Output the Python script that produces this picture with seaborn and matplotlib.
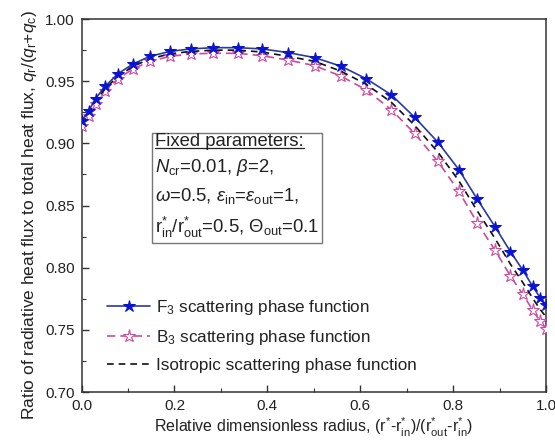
import numpy as np
import pandas as pd
import matplotlib
matplotlib.use("Agg")
import matplotlib.pyplot as plt
import seaborn as sns
from matplotlib.ticker import MultipleLocator, FormatStrFormatter
from matplotlib.lines import Line2D

sns.set_theme(style="ticks")
plt.rcParams['font.family'] = ['Liberation Sans', 'DejaVu Sans']
plt.rcParams['mathtext.fontset'] = 'custom'
plt.rcParams['mathtext.rm'] = 'Liberation Sans'
plt.rcParams['mathtext.it'] = 'Liberation Sans:italic'
plt.rcParams['mathtext.bf'] = 'Liberation Sans:bold'

# ---- data ----
radius = [0.0, 0.015, 0.030, 0.051, 0.078, 0.111, 0.147, 0.190, 0.235, 0.283,
          0.336, 0.389, 0.445, 0.502, 0.559, 0.613, 0.667, 0.717, 0.767, 0.812,
          0.852, 0.890, 0.923, 0.950, 0.971, 0.987, 1.0]
f3 = [0.918, 0.926, 0.936, 0.946, 0.956, 0.964, 0.970, 0.974, 0.976, 0.977,
      0.977, 0.976, 0.973, 0.969, 0.962, 0.952, 0.939, 0.921, 0.901, 0.879,
      0.855, 0.833, 0.813, 0.798, 0.785, 0.776, 0.770]
b3 = [0.914, 0.922, 0.932, 0.942, 0.952, 0.960, 0.966, 0.970, 0.972, 0.9725,
      0.9725, 0.9705, 0.967, 0.9625, 0.954, 0.943, 0.927, 0.908, 0.8855, 0.8615,
      0.836, 0.814, 0.7935, 0.7785, 0.766, 0.757, 0.751]
iso = [0.916, 0.924, 0.934, 0.944, 0.954, 0.962, 0.968, 0.972, 0.974, 0.975,
       0.975, 0.9735, 0.970, 0.966, 0.958, 0.9475, 0.933, 0.9145, 0.893, 0.870,
       0.8455, 0.8235, 0.803, 0.788, 0.7755, 0.7665, 0.7605]
labels = ["F$_3$ scattering phase function",
          "B$_3$ scattering phase function",
          "Isotropic scattering phase function"]

df = pd.DataFrame({"r": radius, "F3": f3, "B3": b3, "Iso": iso})

fig = plt.figure(figsize=(5.55, 4.44), dpi=100)
ax = fig.add_axes([0.147, 0.117, 0.837, 0.840])

blue_line = "#2a3a9c"
blue_mk = "#0a14d0"
pink = "#cc4a9e"

sns.lineplot(data=df, x="r", y="F3", ax=ax, color=blue_line, lw=1.2,
             marker="*", markersize=9, markerfacecolor=blue_mk,
             markeredgecolor=blue_mk, label=labels[0], zorder=4)
sns.lineplot(data=df, x="r", y="B3", ax=ax, color=pink, lw=1.2,
             linestyle=(0, (5, 3)), marker="*", markersize=9.5,
             markerfacecolor="white", markeredgecolor=pink,
             markeredgewidth=0.8, label=labels[1], zorder=3)
sns.lineplot(data=df, x="r", y="Iso", ax=ax, color="#111111", lw=1.2,
             linestyle=(0, (4, 3)), label=labels[2], zorder=3.5)

ax.set_xlim(0, 1.0)
ax.set_ylim(0.70, 1.00)
ax.xaxis.set_major_locator(MultipleLocator(0.2))
ax.xaxis.set_minor_locator(MultipleLocator(0.1))
ax.yaxis.set_major_locator(MultipleLocator(0.05))
ax.yaxis.set_minor_locator(MultipleLocator(0.025))
ax.xaxis.set_major_formatter(FormatStrFormatter('%.1f'))
ax.yaxis.set_major_formatter(FormatStrFormatter('%.2f'))
ax.tick_params(which='major', direction='in', length=5, width=1,
               labelsize=11, colors='#333333', labelcolor='#222222', pad=5)
ax.tick_params(which='minor', direction='in', length=3, width=0.8, colors='#333333')
ax.tick_params(top=False, right=False, which='both')
for s in ax.spines.values():
    s.set_visible(True)
    s.set_color('#333333')
    s.set_linewidth(1.1)

ax.set_xlabel(r"Relative dimensionless radius, (r$^{*}$-r$^{*}_{\rm in}$)/(r$^{*}_{\rm out}$-r$^{*}_{\rm in}$)",
              fontsize=11.5, color='#222222', labelpad=2)
ax.set_ylabel(r"Ratio of radiative heat flux to total heat flux, $q_{\rm r}$/($q_{\rm r}$+$q_{\rm c}$)",
              fontsize=12.5, color='#222222')
ax.yaxis.set_label_coords(-0.092, 0.475)

leg = ax.legend(loc='lower left', bbox_to_anchor=(0.033, 0.024), frameon=False,
                fontsize=12.3, handlelength=2.5, handletextpad=0.35,
                labelspacing=0.63, borderaxespad=0.2)
for t in leg.get_texts():
    t.set_color('#222222')

# parameter box
box_x, box_y = 0.158, 0.695
fs_box = 13.3
box_text = ("Fixed parameters:\n"
            r"$N_{\rm cr}$=0.01, $\beta$=2," "\n"
            r"$\omega$=0.5, $\varepsilon_{\rm in}$=$\varepsilon_{\rm out}$=1," "\n"
            r"r$^{*}_{\rm in}$/r$^{*}_{\rm out}$=0.5, $\Theta_{\rm out}$=0.1")
txt = ax.text(box_x, box_y, box_text, transform=ax.transAxes, fontsize=fs_box,
              va='top', ha='left', color='#222222', linespacing=1.5,
              bbox=dict(boxstyle='square,pad=0.15', fc='white', ec='#777777', lw=1))
hdr = ax.text(box_x, box_y, "Fixed parameters:", transform=ax.transAxes,
              fontsize=fs_box, va='top', ha='left', alpha=0)
fig.canvas.draw()
bb = hdr.get_window_extent(renderer=fig.canvas.get_renderer())
inv = fig.transFigure.inverted()
(x0, y0), (x1, _) = inv.transform([(bb.x0, bb.y0 + 2), (bb.x1, bb.y0)])
fig.add_artist(Line2D([x0, x1], [y0, y0], transform=fig.transFigure,
                      color='#222222', lw=0.9, zorder=10))

fig.savefig("out.png", dpi=100)
